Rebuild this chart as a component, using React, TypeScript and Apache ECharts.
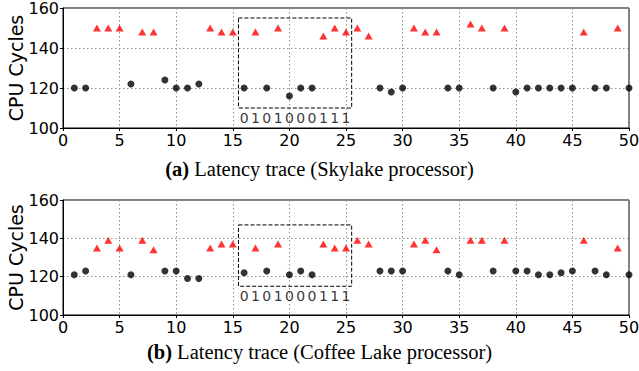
import React, { useEffect, useRef } from "react";
import * as echarts from "echarts";

const xTicks = [0, 5, 10, 15, 20, 25, 30, 35, 40, 45, 50];
const yTicks = [100, 120, 140, 160];

// Skylake (a)
const skyDotX = [1, 2, 6, 9, 10, 11, 12, 16, 18, 20, 21, 22, 28, 29, 30, 34, 35, 38, 40, 41, 42, 43, 44, 45, 47, 48, 50];
const skyDotY = [120, 120, 122, 124, 120, 120, 122, 120, 120, 116, 120, 120, 120, 118, 120, 120, 120, 120, 118, 120, 120, 120, 120, 120, 120, 120, 120];
const skyTriX = [3, 4, 5, 7, 8, 13, 14, 15, 17, 19, 23, 24, 25, 26, 27, 31, 32, 33, 36, 37, 39, 46, 49];
const skyTriY = [150, 150, 150, 148, 148, 150, 148, 148, 148, 150, 146, 150, 148, 150, 146, 150, 148, 148, 152, 150, 150, 148, 150];

// Coffee Lake (b)
const cofDotX = [1, 2, 6, 9, 10, 11, 12, 16, 18, 20, 21, 22, 28, 29, 30, 34, 35, 38, 40, 41, 42, 43, 44, 45, 47, 48, 50];
const cofDotY = [121, 123, 121, 123, 123, 119, 119, 122, 123, 121, 123, 121, 123, 123, 123, 123, 121, 123, 123, 123, 121, 121, 122, 123, 123, 121, 121];
const cofTriX = [3, 4, 5, 7, 8, 13, 14, 15, 17, 19, 23, 24, 25, 26, 27, 31, 32, 33, 36, 37, 39, 46, 49];
const cofTriY = [135, 139, 135, 139, 134, 135, 137, 137, 135, 137, 137, 135, 135, 139, 137, 137, 139, 134, 139, 139, 139, 139, 135];

const bits = ["0", "1", "0", "1", "0", "0", "0", "1", "1", "1"];
const bitX = [16, 17, 18, 19, 20, 21, 22, 23, 24, 25];
const boxA = { x0: 15.5, x1: 25.5, y0: 110, y1: 155, bitY: 105 };
const boxB = { x0: 15.5, x1: 25.5, y0: 115, y1: 147, bitY: 110 };

const titleA = ["(a)", " Latency trace (Skylake processor)"];
const titleB = ["(b)", " Latency trace (Coffee Lake processor)"];

const SANS = "DejaVu Sans";
const SERIF = "Liberation Serif";

function zip(xs: number[], ys: number[]) {
  return xs.map((x, i) => [x, ys[i]]);
}

export default function App() {
  const ref = useRef<HTMLDivElement>(null);
  useEffect(() => {
    if (!ref.current) return;
    const chart = echarts.init(ref.current, undefined, { renderer: "svg" });
    const grid = [
      { left: 63, right: 10, top: 8, height: 120, outerBoundsMode: "none", containLabel: false, show: true, borderColor: "#000", borderWidth: 1, backgroundColor: "transparent" },
      { left: 63, right: 10, top: 200, height: 115, outerBoundsMode: "none", containLabel: false, show: true, borderColor: "#000", borderWidth: 1, backgroundColor: "transparent" },
    ];
    const mkX = (gi: number) => ({
      type: "value",
      gridIndex: gi,
      min: xTicks[0],
      max: xTicks[xTicks.length - 1],
      interval: 5,
      axisLine: { show: true, lineStyle: { color: "#000" } },
      axisTick: { show: true, length: 3, lineStyle: { color: "#000" } },
      axisLabel: { fontFamily: SANS, fontSize: 16, color: "#000", margin: 4 },
      splitLine: { show: true, lineStyle: { color: "#909090", type: [1.5, 2.5], width: 1 } },
    });
    const mkY = (gi: number) => ({
      type: "value",
      gridIndex: gi,
      min: yTicks[0],
      max: yTicks[yTicks.length - 1],
      interval: 20,
      name: "CPU Cycles",
      nameLocation: "middle",
      nameGap: 38,
      nameMoveOverlap: false,
      nameTextStyle: { fontFamily: SANS, fontSize: 19, color: "#000" },
      axisLine: { show: true, lineStyle: { color: "#000" } },
      axisTick: { show: true, length: 3, lineStyle: { color: "#000" } },
      axisLabel: { fontFamily: SANS, fontSize: 16, color: "#000", margin: 4 },
      splitLine: { show: true, lineStyle: { color: "#909090", type: [1.5, 2.5], width: 1 } },
    });
    const box = (b: typeof boxA) => ({
      silent: true,
      itemStyle: { color: "rgba(0,0,0,0)", borderColor: "#000", borderType: [4, 2], borderWidth: 1 },
      data: [[{ xAxis: b.x0, yAxis: b.y1 }, { xAxis: b.x1, yAxis: b.y0 }]],
    });
    const bitSeries = (gi: number, y: number) => ({
      type: "scatter",
      xAxisIndex: gi,
      yAxisIndex: gi,
      symbolSize: 0,
      silent: true,
      data: bitX.map((x, i) => ({ value: [x, y], name: bits[i] })),
      label: {
        show: true,
        position: "inside",
        formatter: (p: any) => p.name,
        fontFamily: SANS,
        fontSize: 14,
        color: "#000",
      },
      z: 5,
    });
    const rich = {
      b: { fontFamily: SERIF, fontSize: 20.5, fontWeight: "bold", color: "#000" },
      n: { fontFamily: SERIF, fontSize: 20.5, color: "#000" },
    };
    chart.setOption({
      animation: false,
      grid,
      xAxis: [mkX(0), mkX(1)],
      yAxis: [mkY(0), mkY(1)],
      series: [
        { type: "scatter", xAxisIndex: 0, yAxisIndex: 0, symbol: "circle", symbolSize: 7, itemStyle: { color: "#000" }, data: zip(skyDotX, skyDotY), z: 3, markArea: box(boxA) },
        { type: "scatter", xAxisIndex: 0, yAxisIndex: 0, symbol: "triangle", symbolSize: [8, 7], itemStyle: { color: "#ff0000" }, data: zip(skyTriX, skyTriY), z: 3 },
        bitSeries(0, boxA.bitY),
        { type: "scatter", xAxisIndex: 1, yAxisIndex: 1, symbol: "circle", symbolSize: 7, itemStyle: { color: "#000" }, data: zip(cofDotX, cofDotY), z: 3, markArea: box(boxB) },
        { type: "scatter", xAxisIndex: 1, yAxisIndex: 1, symbol: "triangle", symbolSize: [8, 7], itemStyle: { color: "#ff0000" }, data: zip(cofTriX, cofTriY), z: 3 },
        bitSeries(1, boxB.bitY),
      ],
      graphic: [
        {
          type: "text",
          left: "center",
          top: 158,
          style: { text: `{b|${titleA[0]}}{n|${titleA[1]}}`, rich },
        },
        {
          type: "text",
          left: "center",
          top: 341,
          style: { text: `{b|${titleB[0]}}{n|${titleB[1]}}`, rich },
        },
      ],
    });
    return () => chart.dispose();
  }, []);
  return <div ref={ref} style={{ width: 639, height: 371, position: "absolute", left: 0, top: 0 }} />;
}
